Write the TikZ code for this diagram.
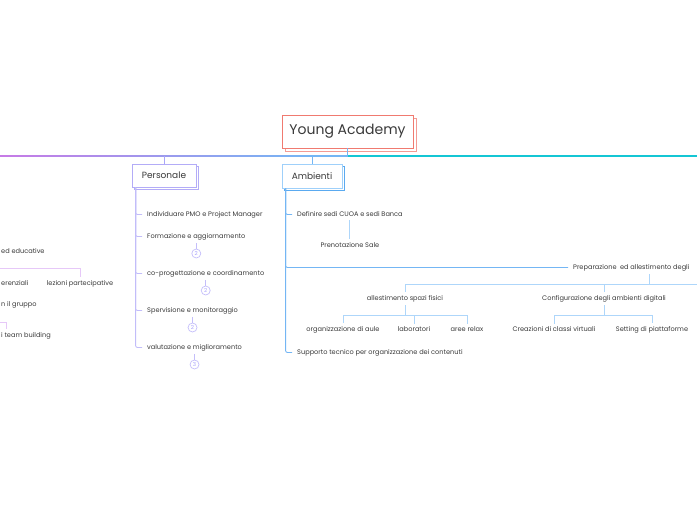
\documentclass[tikz,border=0pt]{standalone}
\usepackage{fontspec}
\setmainfont{Poppins}
\usetikzlibrary{positioning, shadows}

\definecolor{rootred}{HTML}{F07A70}
\definecolor{busmag}{HTML}{C77AE6}
\definecolor{buslav}{HTML}{A9A6F8}
\definecolor{busblue}{HTML}{74B6F4}
\definecolor{buscyan}{HTML}{14C6D4}
\definecolor{perlav}{HTML}{B3ACF7}
\definecolor{ambblue}{HTML}{9FD0FA}
\definecolor{ambdark}{HTML}{5AAAF0}
\definecolor{sublight}{HTML}{AED6FA}
\definecolor{badgec}{HTML}{C4BEFA}
\definecolor{leftpink}{HTML}{E6C8F8}
\definecolor{textgray}{HTML}{3A3A3A}

\begin{document}
\begin{tikzpicture}[
                x=1pt, y=-1pt,
                txt/.style={font=\fontsize{6.6}{8}\selectfont, text=textgray, inner xsep=1pt, inner ysep=3pt, yshift=-1.5pt},
                item/.style={txt, anchor=west, inner xsep=5pt},
                topic/.style={draw, rectangle, fill=white, line width=0.9pt, text=textgray, font=\fontsize{9}{11}\selectfont},
                rootbox/.style={topic, draw=rootred, minimum width=131pt, minimum height=33pt, font=\fontsize{14}{16}\selectfont,
                    general shadow={shadow xshift=3pt, shadow yshift=-3pt, draw=rootred!75, fill=white, line width=0.9pt}},
                perbox/.style={topic, draw=perlav, minimum width=64pt, minimum height=23pt,
                    general shadow={shadow xshift=2.5pt, shadow yshift=-2.5pt, draw=perlav, fill=white, line width=0.9pt}},
                ambbox/.style={topic, draw=ambblue, minimum width=60pt, minimum height=24pt,
                    general shadow={shadow xshift=2.5pt, shadow yshift=-2.5pt, draw=ambdark, fill=white, line width=0.9pt}},
                badge/.style={circle, draw=badgec, text=badgec!85!blue, line width=0.7pt, inner sep=0pt, minimum size=9pt, font=\fontsize{5.5}{6}\selectfont},
                perline/.style={draw=perlav!80, line width=0.9pt},
                ambline/.style={draw=busblue, line width=0.9pt},
                subline/.style={draw=sublight, line width=0.9pt},
                leftline/.style={draw=leftpink, line width=0.9pt}
            ]
            \useasboundingbox (0,0) rectangle (697,520);

            % Nodes
            \node[rootbox] (root) at (347.5, 131.5) {Young Academy};
            \node[perbox] (pers) at (164, 175.5) {Personale};
            \node[ambbox] (amb) at (312, 176) {Ambienti};
            \coordinate (busL) at (0, 156);
            \coordinate (busR) at (697, 156);

            \node[item] (p1) at (142, 213) {Individuare PMO e Project Manager};
            \node[item] (p2) at (142, 235) {Formazione e aggiornamento};
            \node[item] (p3) at (142, 272) {co-progettazione e coordinamento};
            \node[item] (p4) at (142, 309) {Spervisione e monitoraggio};
            \node[item] (p5) at (142, 346) {valutazione e miglioramento};
            \node[badge] (b2) at ([yshift=-17pt]p2.center) {2};
            \node[badge] (b3) at ([yshift=-17pt]p3.center) {2};
            \node[badge] (b4) at ([yshift=-17pt]p4.center) {2};
            \node[badge] (b5) at ([yshift=-17pt]p5.center) {3};

            \node[item] (a1) at (292, 213) {Definire sedi CUOA e sedi Banca};
            \node[txt, below=17.5pt of a1] (a2) {Prenotazione Sale};
            \node[item] (a3) at (568, 266) {Preparazione \ ed allestimento degli};
            \node[item] (a4) at (292, 351) {Supporto tecnico per organizzazione dei contenuti};
            \coordinate (a3stem) at ([xshift=81pt]a3.south west);
            \coordinate (a3bus) at ([yshift=-10pt]a3stem);
            \coordinate (bus2R) at (697, 284);

            \node[txt] (s1) at (405, 297) {allestimento spazi fisici};
            \node[txt] (s2) at (604, 297) {Configurazione degli ambienti digitali};
            \node[txt] (t1) at (343, 328) {organizzazione di aule};
            \node[txt] (t2) at (414, 328) {laboratori};
            \node[txt] (t3) at (467, 328) {aree relax};
            \node[txt] (u1) at (554, 328) {Creazioni di classi virtuali};
            \node[txt] (u2) at (652, 328) {Setting di piattaforme};

            \node[txt, anchor=west] (l1) at (0, 250) {ed educative};
            \node[txt, anchor=west] (l2) at (0, 282) {erenziali};
            \node[txt] (l3) at (80, 282) {lezioni partecipative};
            \node[txt, anchor=west] (l4) at (0, 303) {n il gruppo};
            \node[txt, anchor=west] (l5) at (0, 334) {i team building};
            \coordinate (lbus) at (0, 268);
            \coordinate (lbus2) at (0, 322);

            % Edges
            \shade[left color=busmag, middle color=buslav, right color=busblue] ([yshift=0.65pt]busL) rectangle ([yshift=-0.65pt]amb.north |- busL);
            \draw[ambline, line width=1.3pt] (amb.north |- busL) -- (root.south |- busL);
            \draw[draw=buscyan, line width=1.3pt] (root.south |- busL) -- (busR);
            \draw[ambline] (root.south) -- (root.south |- busL);
            \draw[perline, draw=buslav] (pers.north) -- (pers.north |- busL);
            \draw[ambline] (amb.north) -- (amb.north |- busL);

            \coordinate (pstem) at ([xshift=4pt]pers.south west);
            \foreach \i in {1,...,5}
                \draw[perline, rounded corners=2pt] (pstem) |- (p\i.west);
            \foreach \i in {2,...,5}
                \draw[draw=badgec, line width=0.7pt] (b\i.north) -- (b\i.north |- p\i.south);

            \coordinate (astem) at ([xshift=4pt]amb.south west);
            \foreach \i in {1,3,4}
                \draw[ambline, rounded corners=2pt] (astem) |- (a\i.west);
            \draw[subline] (a1.south) -- (a2.north);
            \draw[subline] (a3stem) -- (a3bus) -- (a3bus -| bus2R);
            \draw[subline] (a3bus) -| (s1.north);
            \draw[subline] (a3bus) -| (s2.north);
            \foreach \c in {t1, t2, t3}
                \draw[subline] (s1.south) -- ++(0, 10) -| (\c.north);
            \foreach \c in {u1, u2}
                \draw[subline] (s2.south) -- ++(0, 10) -| (\c.north);

            \draw[leftline] (lbus) -| (l3.north);
            \draw[leftline] (lbus2) -| ([xshift=6pt]l5.north west);
            \end{tikzpicture}
\end{document}
